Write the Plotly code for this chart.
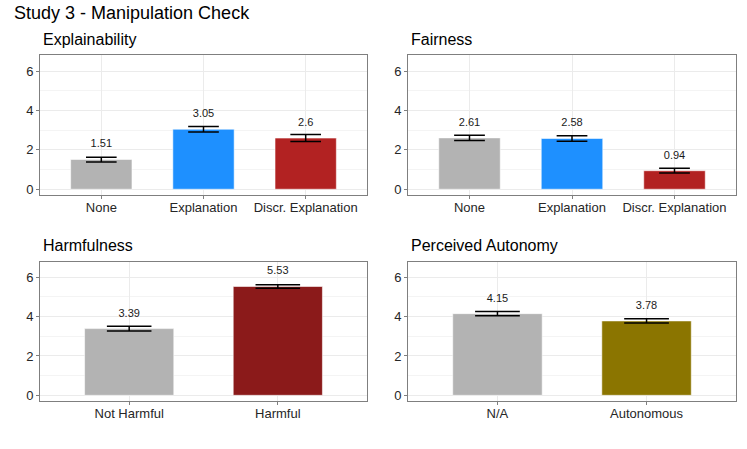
import plotly.graph_objects as go

# ---- data ----
expl_cats = ["None", "Explanation", "Discr. Explanation"]
expl_means = [1.51, 3.05, 2.6]
expl_se = [0.12, 0.14, 0.18]

fair_cats = ["None", "Explanation", "Discr. Explanation"]
fair_means = [2.61, 2.58, 0.94]
fair_se = [0.13, 0.14, 0.12]

harm_cats = ["Not Harmful", "Harmful"]
harm_means = [3.39, 5.53]
harm_se = [0.12, 0.09]

auto_cats = ["N/A", "Autonomous"]
auto_means = [4.15, 3.78]
auto_se = [0.11, 0.11]

y_ticks = [0, 2, 4, 6]

# ---- style ----
W, H = 747, 449
FONT = "Liberation Sans, Arial, Helvetica, sans-serif"
GREY = "#B3B3B3"
BLUE = "#1E90FF"
FIREBRICK = "#B22222"
DARKRED = "#8B1A1A"
OLIVE = "#8B7500"
LABEL_OFFSET = 0.75

panels = [
    dict(title="Explainability", cats=expl_cats, means=expl_means, se=expl_se,
         colors=[GREY, BLUE, FIREBRICK], box=(40, 367, 55.7, 196)),
    dict(title="Fairness", cats=fair_cats, means=fair_means, se=fair_se,
         colors=[GREY, BLUE, FIREBRICK], box=(408, 736, 55.7, 196)),
    dict(title="Harmfulness", cats=harm_cats, means=harm_means, se=harm_se,
         colors=[GREY, DARKRED], box=(40, 367, 262.7, 403)),
    dict(title="Perceived Autonomy", cats=auto_cats, means=auto_means, se=auto_se,
         colors=[GREY, OLIVE], box=(408, 736, 262.7, 403)),
]

fig = go.Figure()
annotations = [dict(text="Study 3 - Manipulation Check", x=12 / W, y=1 - 13 / H,
                    xref="paper", yref="paper", xanchor="left", yanchor="middle",
                    showarrow=False, font=dict(family=FONT, size=18, color="#000000"))]

for i, p in enumerate(panels, start=1):
    xa = "x" if i == 1 else f"x{i}"
    ya = "y" if i == 1 else f"y{i}"
    n = len(p["cats"])
    x0, x1, t, b = p["box"]
    unit_px = (x1 - x0) / (n - 1 + 1.2)
    cap_half = 0.15 * unit_px
    fig.add_trace(go.Bar(
        x=p["cats"], y=p["means"], xaxis=xa, yaxis=ya, width=0.6,
        marker=dict(color=p["colors"], line=dict(color="rgba(255,255,255,0.55)", width=1)),
        error_y=dict(type="data", array=p["se"], color="#000000", thickness=1.5,
                     width=cap_half),
        showlegend=False, hoverinfo="skip"))
    fig.add_trace(go.Scatter(
        x=p["cats"], y=[m + LABEL_OFFSET for m in p["means"]],
        text=[f"{m:g}" for m in p["means"]], mode="text", xaxis=xa, yaxis=ya,
        textfont=dict(family=FONT, size=11, color="#1a1a1a"),
        showlegend=False, hoverinfo="skip"))
    axis_common = dict(showline=True, mirror=True, linecolor="#7F7F7F", linewidth=1,
                       ticks="outside", ticklen=3, tickcolor="#7F7F7F",
                       tickfont=dict(family=FONT, size=13, color="#262626"),
                       showgrid=True, gridcolor="#EBEBEB", gridwidth=1, zeroline=False)
    fig.update_layout(**{
        ("xaxis" if i == 1 else f"xaxis{i}"): dict(
            domain=[x0 / W, x1 / W], anchor=ya, type="category",
            range=[-0.6, n - 0.4], fixedrange=True, ticklabelstandoff=-3,
            **axis_common),
        ("yaxis" if i == 1 else f"yaxis{i}"): dict(
            domain=[1 - b / H, 1 - t / H], anchor=xa, range=[-0.3, 6.8],
            tickvals=y_ticks, minor=dict(dtick=1, tick0=0, showgrid=True,
                                         gridcolor="#F4F4F4", gridwidth=1),
            fixedrange=True, **axis_common),
    })
    annotations.append(dict(text=p["title"], x=(x0 + 0.5) / W, y=1 - (t - 16) / H,
                            xref="paper", yref="paper", xanchor="left", yanchor="middle",
                            showarrow=False,
                            font=dict(family=FONT, size=16, color="#000000")))

fig.update_layout(width=W, height=H, margin=dict(l=0, r=0, t=0, b=0),
                  paper_bgcolor="white", plot_bgcolor="white",
                  annotations=annotations, bargap=0.4)

fig.write_html("out.html", config={"displayModeBar": False},
               post_script="document.body.style.margin='0px';document.body.style.overflow='hidden';")
